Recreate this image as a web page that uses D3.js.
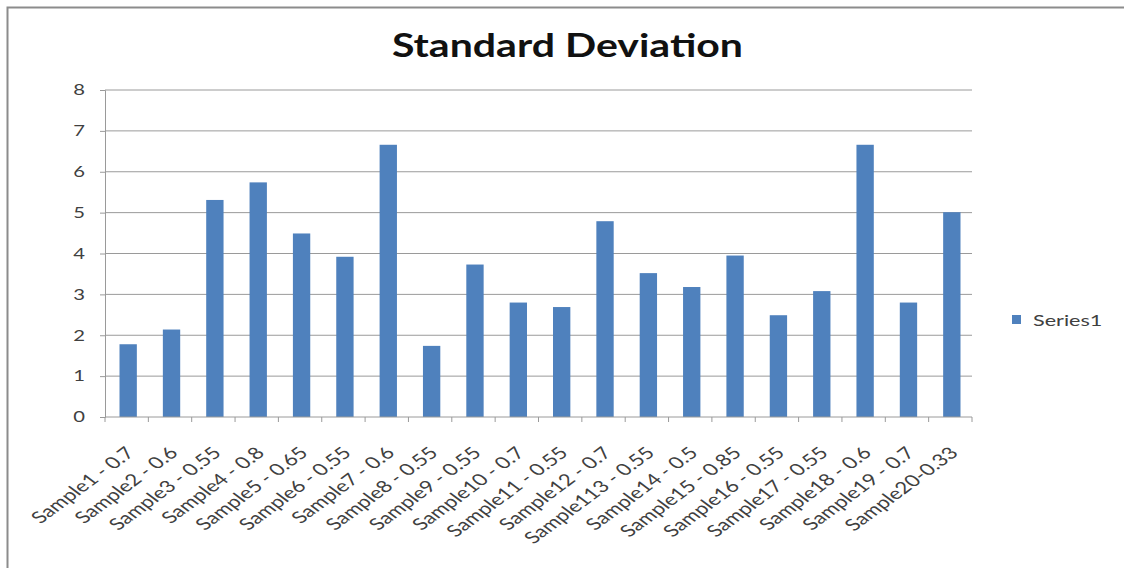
<!DOCTYPE html>
<html>
<head>
<meta charset="utf-8">
<script src="https://cdn.jsdelivr.net/npm/d3@7"></script>
<style>
  html, body { margin: 0; padding: 0; background: #fff; }
  svg { display: block; }
  text { font-family: Lato, "Open Sans", sans-serif; }
</style>
</head>
<body>
<svg id="chart" width="1124" height="568"></svg>
<script>
// Sample labels along the category axis
const categories = [
  "Sample1 - 0.7", "Sample2 - 0.6", "Sample3 - 0.55", "Sample4 - 0.8",
  "Sample5 - 0.65", "Sample6 - 0.55", "Sample7 - 0.6", "Sample8 - 0.55",
  "Sample9 - 0.55", "Sample10 - 0.7", "Sample11 - 0.55", "Sample12 - 0.7",
  "Sample113 - 0.55", "Sample14 - 0.5", "Sample15 - 0.85", "Sample16 - 0.55",
  "Sample17 - 0.55", "Sample18 - 0.6", "Sample19 - 0.7", "Sample20-0.33"
];
// Standard deviation per sample (Series1)
const series1 = [
  1.78, 2.14, 5.31, 5.74, 4.49, 3.92, 6.66, 1.74, 3.73, 2.80,
  2.69, 4.79, 3.52, 3.18, 3.95, 2.49, 3.08, 6.66, 2.80, 5.01
];
const yTicks = [0, 1, 2, 3, 4, 5, 6, 7, 8];
const seriesName = "Series1";
const title = "Standard Deviation";

const svg = d3.select("#chart");
const barColor = "#4F81BD";
const gridColor = "#9a9a9a";
const textColor = "#404040";
const wide = 1.35; // horizontal stretch of the chart's lettering

const plot = { left: 105, right: 972, top: 90, bottom: 417 };

const x = d3.scaleBand()
  .domain(categories)
  .range([plot.left, plot.right])
  .paddingInner(0.6)
  .paddingOuter(0.3);

const xEdges = d3.scaleLinear()
  .domain([0, categories.length])
  .range([plot.left, plot.right]);

const y = d3.scaleLinear()
  .domain([0, 8])
  .range([plot.bottom, plot.top]);

// chart frame
svg.append("path")
  .attr("d", "M7.5,568 L7.5,7.5 L1124,7.5")
  .attr("fill", "none")
  .attr("stroke", "#8c8c8c")
  .attr("stroke-width", 2);

// title
svg.append("text")
  .attr("x", 567.5)
  .attr("y", 57)
  .attr("text-anchor", "middle")
  .attr("font-size", 32)
  .attr("font-weight", "bold")
  .attr("fill", "#111")
  .attr("textLength", 351)
  .attr("lengthAdjust", "spacingAndGlyphs")
  .text(title);

// value axis: line, outward ticks and labels
const yAxis = d3.axisLeft(y)
  .tickValues(yTicks)
  .tickSize(5)
  .tickFormat("");

const yG = svg.append("g")
  .attr("transform", `translate(${plot.left},0)`)
  .call(yAxis);
yG.select(".domain").attr("stroke", gridColor);
yG.selectAll(".tick line").attr("stroke", gridColor);

svg.append("g")
  .selectAll("text")
  .data(yTicks)
  .join("text")
  .attr("text-anchor", "end")
  .attr("dy", "0.35em")
  .attr("font-size", 15)
  .attr("fill", textColor)
  .attr("transform", d => `translate(85,${y(d)}) scale(${wide},1)`)
  .text(d3.format("d"));

// horizontal gridlines
svg.append("g")
  .selectAll("line")
  .data(yTicks.filter(d => d > 0))
  .join("line")
  .attr("x1", plot.left)
  .attr("x2", plot.right)
  .attr("y1", d => y(d))
  .attr("y2", d => y(d))
  .attr("stroke", gridColor)
  .attr("stroke-width", 1);

// bars
svg.append("g")
  .selectAll("rect")
  .data(series1)
  .join("rect")
  .attr("x", (d, i) => x(categories[i]) + 1.5)
  .attr("width", x.bandwidth())
  .attr("y", d => y(d))
  .attr("height", d => y(0) - y(d))
  .attr("fill", barColor);

// category axis line and tick marks between categories
svg.append("line")
  .attr("x1", plot.left)
  .attr("x2", plot.right)
  .attr("y1", y(0))
  .attr("y2", y(0))
  .attr("stroke", gridColor);

svg.append("g")
  .selectAll("line")
  .data(d3.range(categories.length + 1))
  .join("line")
  .attr("x1", i => xEdges(i))
  .attr("x2", i => xEdges(i))
  .attr("y1", y(0))
  .attr("y2", y(0) + 5)
  .attr("stroke", gridColor);

// rotated category labels (stretched with the rest of the lettering)
svg.append("g")
  .selectAll("text")
  .data(categories)
  .join("text")
  .attr("text-anchor", "end")
  .attr("font-size", 16.5)
  .attr("fill", textColor)
  .attr("transform", d => `translate(${x(d) + x.bandwidth() / 2 + 9},${y(0) + 37}) scale(${wide},1) rotate(-45)`)
  .text(d => d);

// legend
const legend = svg.append("g").attr("transform", "translate(1012,315)");
legend.append("rect")
  .attr("width", 9)
  .attr("height", 9)
  .attr("fill", barColor);
legend.append("text")
  .attr("font-size", 16)
  .attr("fill", textColor)
  .attr("transform", `translate(21,10.5) scale(${wide},1)`)
  .text(seriesName);
</script>
</body>
</html>
